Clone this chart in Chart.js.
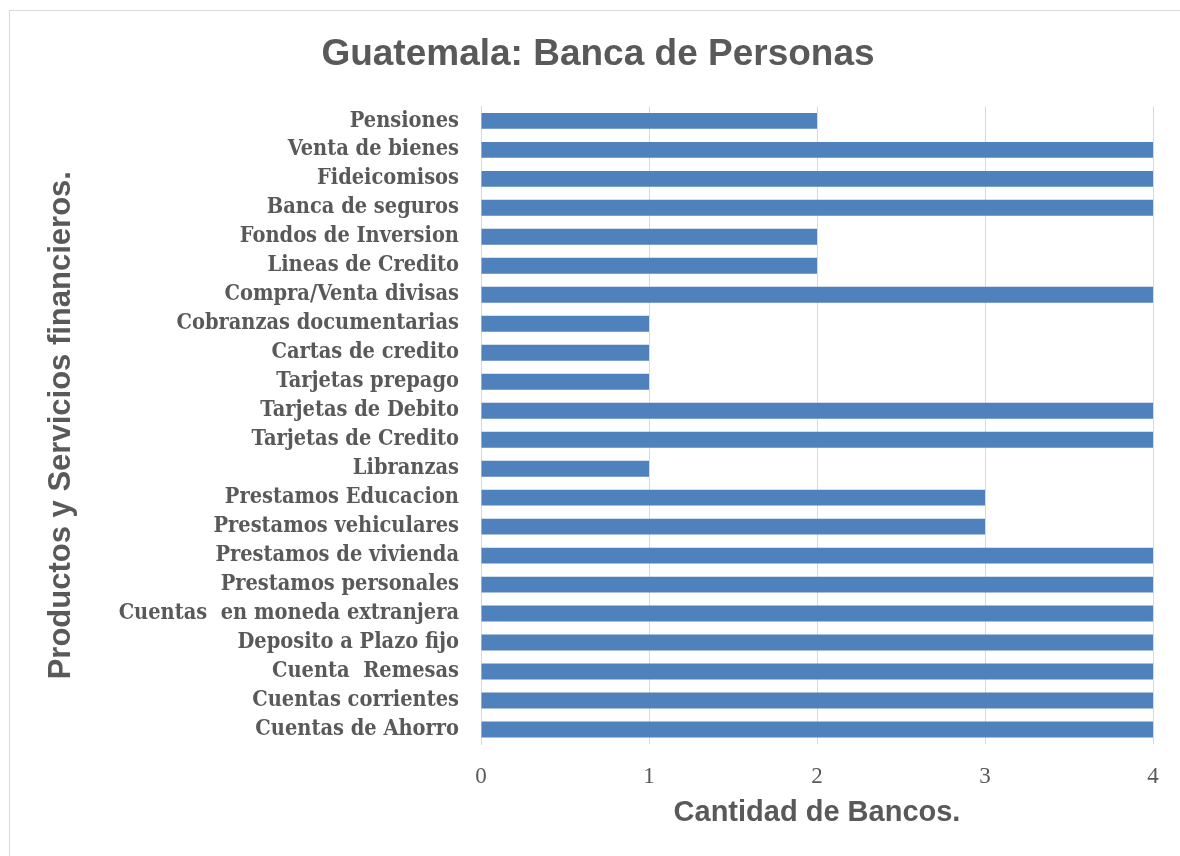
<!DOCTYPE html>
<html>
<head>
<meta charset="utf-8">
<script src="https://cdn.jsdelivr.net/npm/chart.js@4"></script>
<style>
  body { margin: 0; background: #fff; overflow: hidden; }
  #frame { position: absolute; left: 9px; top: 10px; width: 1300px; height: 1000px; border: 1px solid #d9d9d9; }
  #chart { position: absolute; left: 0; top: 0; }
</style>
</head>
<body>
<div id="frame"></div>
<canvas id="chart" width="1180" height="856"></canvas>
<script>
const productos = [
    'Pensiones', 'Venta de bienes', 'Fideicomisos', 'Banca de seguros',
    'Fondos de Inversion', 'Lineas de Credito', 'Compra/Venta divisas',
    'Cobranzas documentarias', 'Cartas de credito', 'Tarjetas prepago',
    'Tarjetas de Debito', 'Tarjetas de Credito', 'Libranzas',
    'Prestamos Educacion', 'Prestamos vehiculares', 'Prestamos de vivienda',
    'Prestamos personales', 'Cuentas  en moneda extranjera',
    'Deposito a Plazo fijo', 'Cuenta  Remesas', 'Cuentas corrientes',
    'Cuentas de Ahorro'
];
const cantidadBancos = [2, 4, 4, 4, 2, 2, 4, 1, 1, 1, 4, 4, 1, 3, 3, 4, 4, 4, 4, 4, 4, 4];
const xTicks = [0, 1, 2, 3, 4];

const gray = '#595959';
const ctx = document.getElementById('chart').getContext('2d');

// left padding shifts the centred title to the right like in the original
const chart = new Chart(ctx, {
    type: 'bar',
    data: {
        labels: productos,
        datasets: [{
            data: cantidadBancos,
            backgroundColor: '#4f81bd',
            barPercentage: 0.55,
            categoryPercentage: 1
        }]
    },
    options: {
        indexAxis: 'y',
        responsive: false,
        animation: false,
        layout: { padding: { left: 43, right: 27, top: 0, bottom: 0 } },
        plugins: {
            legend: { display: false },
            tooltip: { enabled: false },
            title: {
                display: true,
                text: 'Guatemala: Banca de Personas',
                color: gray,
                font: { family: 'Liberation Sans, Arial, sans-serif', size: 37, weight: 'bold' },
                padding: { top: 33, bottom: 29 }
            }
        },
        scales: {
            x: {
                min: 0,
                max: 4,
                afterBuildTicks: (scale) => { scale.ticks = xTicks.map(v => ({ value: v })); },
                afterFit: (scale) => { scale.height = 112; },
                grid: { color: '#d9d9d9', drawTicks: false },
                border: { display: false },
                ticks: {
                    color: gray,
                    padding: 19,
                    font: { family: 'Liberation Serif, serif', size: 23 }
                },
                title: {
                    display: true,
                    text: 'Cantidad de Bancos.',
                    color: gray,
                    font: { family: 'Liberation Sans, Arial, sans-serif', size: 29, weight: 'bold' },
                    padding: { top: 0, bottom: 26 }
                }
            },
            y: {
                afterFit: (scale) => { scale.width = 438; },
                grid: { display: false, drawTicks: false },
                border: { color: '#d9d9d9', width: 1 },
                ticks: {
                    color: gray,
                    padding: 22,
                    autoSkip: false,
                    font: { family: 'DejaVu Serif Condensed, DejaVu Serif, serif', size: 21.6, weight: 'bold' }
                },
                title: {
                    display: true,
                    text: 'Productos y Servicios financieros.',
                    color: gray,
                    font: { family: 'Liberation Sans, Arial, sans-serif', size: 31, weight: 'bold' },
                    padding: { top: 0, bottom: 0 }
                }
            }
        }
    }
});
</script>
</body>
</html>
